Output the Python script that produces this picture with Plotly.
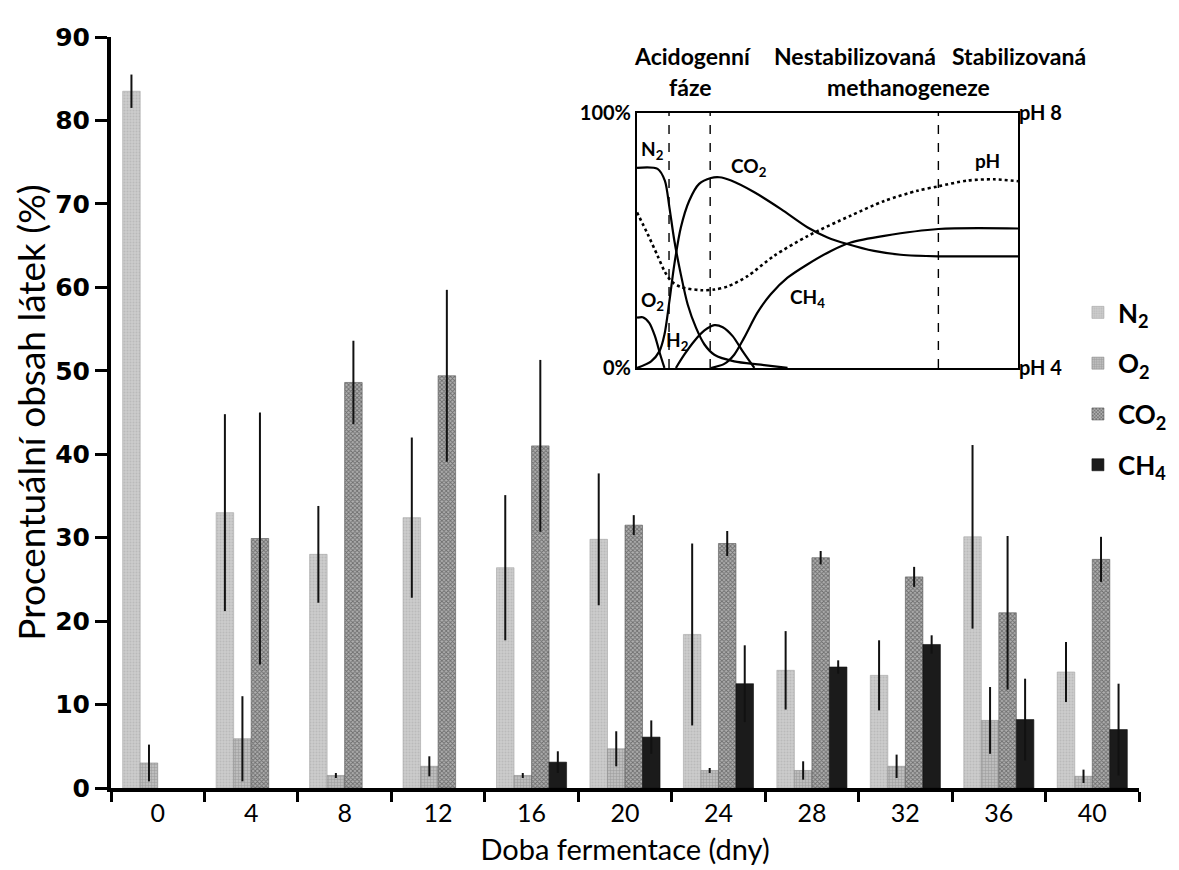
import plotly.graph_objects as go

# ---------------- main chart data ----------------
days = ["0", "4", "8", "12", "16", "20", "24", "28", "32", "36", "40"]

n2 = [83.5, 33.0, 28.0, 32.4, 26.4, 29.8, 18.4, 14.1, 13.5, 30.1, 13.9]
n2_err = [2.0, 11.8, 5.8, 9.6, 8.7, 7.9, 10.9, 4.7, 4.2, 11.0, 3.6]

o2 = [3.0, 5.9, 1.5, 2.6, 1.5, 4.7, 2.1, 2.1, 2.6, 8.1, 1.4]
o2_err = [2.2, 5.1, 0.3, 1.2, 0.3, 2.1, 0.3, 1.1, 1.4, 4.0, 0.8]

co2 = [None, 29.9, 48.6, 49.4, 41.0, 31.5, 29.3, 27.6, 25.3, 21.0, 27.4]
co2_err = [None, 15.1, 5.0, 10.3, 10.3, 1.2, 1.5, 0.8, 1.2, 9.2, 2.7]

ch4 = [None, None, None, None, 3.1, 6.1, 12.5, 14.5, 17.2, 8.2, 7.0]
ch4_err = [None, None, None, None, 1.3, 2.0, 4.6, 0.8, 1.1, 4.9, 5.5]

series_names = ["N<sub>2</sub>", "O<sub>2</sub>", "CO<sub>2</sub>", "CH<sub>4</sub>"]

y_ticks = [0, 10, 20, 30, 40, 50, 60, 70, 80, 90]

# ---------------- inset (schematic) data ----------------
ins_n2_x = [0, 5.4, 7.3, 8.5, 9.8, 11.5, 13.3, 15.5, 17.7, 20.3, 25.5, 32.5, 39.5]
ins_n2_y = [78.5, 78.1, 73.5, 63.0, 49.9, 36.7, 24.9, 15.7, 9.2, 5.2, 2.6, 1.3, 0]

ins_co2_x = [0, 3.7, 5.9, 7.2, 8.5, 9.8, 11.5, 13.7, 16.3, 19.4, 21.6, 24.7, 30.8,
             37.8, 44.8, 50.0, 55.2, 62.2, 69.2, 79.1, 100]
ins_co2_y = [0, 2.6, 6.6, 13.1, 26.2, 40.7, 55.1, 65.6, 72.2, 74.5, 74.8, 73.5, 68.9,
             62.3, 55.1, 51.2, 48.6, 45.9, 44.4, 43.8, 43.8]

ins_o2_x = [0, 1.5, 3.2, 4.7, 6.1, 7.2]
ins_o2_y = [19.7, 19.9, 17.7, 12.5, 5.2, 0]

ins_h2_x = [10.2, 12.4, 15.0, 17.7, 20.3, 22.5, 25.1, 27.7, 30.8]
ins_h2_y = [0, 5.2, 10.5, 14.7, 16.8, 16.0, 12.5, 6.6, 0]

ins_ch4_x = [19.4, 22.9, 25.5, 28.1, 31.6, 35.1, 39.5, 44.8, 50.9, 56.1, 64.9, 79.1, 100]
ins_ch4_y = [0, 1.6, 5.2, 11.8, 21.7, 28.9, 35.4, 40.7, 45.9, 49.2, 51.8, 54.5, 54.7]

ins_ph_x = [0, 2.8, 5.4, 7.2, 9.0, 11.5, 16.8, 20.3, 23.8, 29.0, 36.0, 44.8, 56.1,
            64.9, 73.6, 79.1, 86.7, 93.7, 100]
ins_ph_y = [6.44, 6.10, 5.76, 5.52, 5.36, 5.27, 5.22, 5.23, 5.28, 5.44, 5.76, 6.07,
            6.39, 6.62, 6.78, 6.85, 6.94, 6.96, 6.93]

phase_bounds = [8.4, 19.2, 79.1]

ins_labels = ["N<sub>2</sub>", "CO<sub>2</sub>", "pH", "O<sub>2</sub>", "H<sub>2</sub>", "CH<sub>4</sub>"]
ins_label_x = [4.1, 29.5, 92.1, 4.1, 10.7, 44.8]
ins_label_y = [85.3, 79.0, 81.4, 26.2, 10.5, 27.6]

phase_line1 = ["Acidogenní", "Nestabilizovaná", "Stabilizovaná"]
phase_line2 = ["fáze", "methanogeneze"]

# ---------------- figure ----------------
fig = go.Figure()

styles = [
    dict(color="#c9c9c9", line=dict(color="#a5a5a5", width=0.6),
         pattern=dict(shape=".", fgcolor="#a8a8a8", bgcolor="#cccccc", size=3, solidity=0.35)),
    dict(color="#b0b0b0", line=dict(color="#8a8a8a", width=0.6),
         pattern=dict(shape="+", fgcolor="#6a6a6a", bgcolor="#bdbdbd", size=3, solidity=0.25)),
    dict(color="#7a7a7a", line=dict(color="#555555", width=0.6),
         pattern=dict(shape="x", fgcolor="#2a2a2a", bgcolor="#b0b0b0", size=3, solidity=0.5)),
    dict(color="#1b1b1b", line=dict(color="#111111", width=0.6)),
]

for name, vals, errs, st in zip(series_names, [n2, o2, co2, ch4],
                                [n2_err, o2_err, co2_err, ch4_err], styles):
    fig.add_trace(go.Bar(
        x=days, y=vals, name=name, legendgroup=name,
        marker=st,
        error_y=dict(type="data", array=errs, visible=True, color="#111111",
                     thickness=2, width=0),
        xaxis="x", yaxis="y",
    ))

# inset curves
for xs, ys in [(ins_n2_x, ins_n2_y), (ins_co2_x, ins_co2_y), (ins_o2_x, ins_o2_y),
               (ins_h2_x, ins_h2_y), (ins_ch4_x, ins_ch4_y)]:
    fig.add_trace(go.Scatter(x=xs, y=ys, mode="lines",
                             line=dict(color="black", width=2.2, shape="spline", smoothing=0.8),
                             showlegend=False, hoverinfo="skip", xaxis="x2", yaxis="y2"))

fig.add_trace(go.Scatter(x=ins_ph_x, y=ins_ph_y, mode="lines",
                         line=dict(color="black", width=2.6, dash="dot", shape="spline", smoothing=0.8),
                         showlegend=False, hoverinfo="skip", xaxis="x2", yaxis="y3"))

for b in phase_bounds:
    fig.add_trace(go.Scatter(x=[b, b], y=[0, 100], mode="lines",
                             line=dict(color="black", width=1.4, dash="dash"),
                             showlegend=False, hoverinfo="skip", xaxis="x2", yaxis="y2"))

annotations = []
for t, ux, uy in zip(ins_labels, ins_label_x, ins_label_y):
    annotations.append(dict(text=t, x=ux, y=uy, xref="x2", yref="y2", showarrow=False,
                            font=dict(family="Lato", size=19, color="black", weight="bold")))

title_font = dict(family="Lato", size=23, color="black", weight="bold")
line1_x = [0.5652, 0.7237, 0.8161]
line1_anchor = ["center", "center", "left"]
for t, px, xa in zip(phase_line1, line1_x, line1_anchor):
    annotations.append(dict(text=t, x=px, y=0.9747, xref="paper", yref="paper",
                            showarrow=False, font=title_font, xanchor=xa, yanchor="middle"))
line2_x = [0.5642, 0.7753]
for t, px in zip(phase_line2, line2_x):
    annotations.append(dict(text=t, x=px, y=0.9334, xref="paper", yref="paper",
                            showarrow=False, font=title_font, xanchor="center", yanchor="middle"))

fig.update_layout(
    width=1179, height=870,
    margin=dict(l=103, r=48, t=29, b=90, autoexpand=False),
    paper_bgcolor="white", plot_bgcolor="white",
    barmode="group", bargap=0.25, bargroupgap=0,
    showlegend=True,
    legend=dict(x=0.9406, y=0.6645, xanchor="left", yanchor="top",
                font=dict(family="Lato", size=26, color="black", weight="bold"),
                tracegroupgap=14, bgcolor="rgba(0,0,0,0)", itemwidth=30),
    xaxis=dict(type="category", domain=[0, 1], anchor="y", automargin=False,
               showline=True, linecolor="black", linewidth=4,
               ticks="outside", tickson="boundaries", ticklen=10, tickwidth=3, tickcolor="black",
               tickfont=dict(family="Lato", size=25, color="black"),
               showgrid=False, zeroline=False,
               title=dict(text="Doba fermentace (dny)", standoff=15,
                          font=dict(family="Lato", size=29, color="black"))),
    yaxis=dict(range=[0, 90], domain=[0, 1], anchor="x", automargin=False,
               tickvals=y_ticks,
               showline=True, linecolor="black", linewidth=4,
               ticks="outside", ticklen=12, tickwidth=3, tickcolor="black",
               tickfont=dict(family="DejaVu Sans", size=25, color="black", weight="bold"),
               showgrid=False, zeroline=False,
               title=dict(text="Procentuální obsah látek (%)", standoff=1,
                          font=dict(family="Lato", size=37, color="black"))),
    xaxis2=dict(domain=[0.5117, 0.8823], anchor="y2", range=[0, 100], automargin=False,
                color="black", showline=True, mirror=True, linecolor="black", linewidth=2,
                showticklabels=False, ticks="", showgrid=False, zeroline=False),
    yaxis2=dict(domain=[0.5593, 0.8988], anchor="x2", range=[0, 100], automargin=False,
                color="black", showline=True, mirror=True, linecolor="black", linewidth=2,
                tickvals=[0, 100], ticktext=["0%", "100%"], ticks="",
                tickfont=dict(family="Lato", size=20, color="black", weight="bold"),
                showgrid=False, zeroline=False),
    yaxis3=dict(anchor="x2", overlaying="y2", side="right", range=[4, 8], automargin=False,
                color="black", tickvals=[4, 8], ticktext=["pH 4", "pH 8"], ticks="",
                tickfont=dict(family="Lato", size=20, color="black", weight="bold"),
                showline=False, showgrid=False, zeroline=False),
    annotations=annotations,
)

fig.write_html("out.html")
